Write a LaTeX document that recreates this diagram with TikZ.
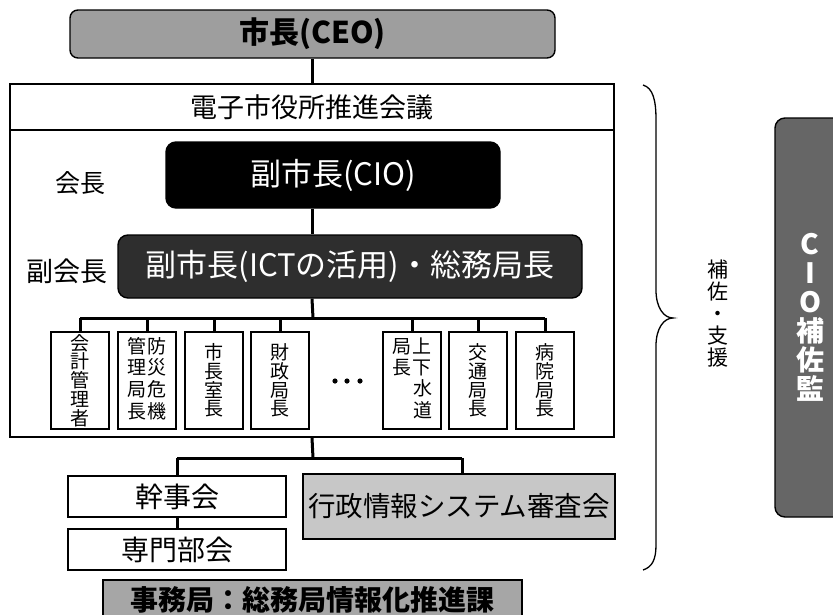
\documentclass[tikz,border=0pt]{standalone}
\usepackage{fontspec}
\setmainfont{Noto Sans CJK JP}
\newcommand{\fsz}[1]{\fontsize{#1}{#1}\selectfont}
\begin{document}
\begin{tikzpicture}[x=1pt,y=-1pt,
  conn/.style={line width=3pt},
  box/.style={draw, line width=1.4pt, inner sep=0pt},
  dept/.style={draw, line width=1.1pt, minimum width=58, minimum height=97, inner sep=0pt,
     font=\fontsize{19}{18.8}\selectfont, align=center},
  lbl/.style={inner sep=0pt}]
\useasboundingbox (0,0) rectangle (833,614);
\clip (0,0) rectangle (833,614);
% CEO
\node[box, rounded corners=8pt, fill=black!38, minimum width=485, minimum height=48,
  font=\fsz{30}\bfseries] (ceo) at (312.5,34) {市長(CEO)};
% council
\node[box, minimum width=604, minimum height=353] (council) at (312,260.5) {};
\node[box, minimum width=604, minimum height=46, font=\fsz{27}] (head) at (312,107) {電子市役所推進会議};
% chair
\node[lbl, font=\fsz{25}] (kaicho) at (80,183) {会長};
\node[box, rounded corners=10pt, fill=black, text=white, minimum width=334, minimum height=66,
  font=\fsz{31}] (cio) at (333,175) {副市長(CIO)};
% vice chair
\node[lbl, font=\fsz{27}] (fuku) at (67,271) {副会長};
\node[box, rounded corners=10pt, fill=black!82, text=white, minimum width=464, minimum height=63,
  font=\fsz{31}] (vice) at (350,266.5) {副市長(ICTの活用)・総務局長};
% departments
\node[dept] (d1) at (80,380.5) {会\\計\\管\\理\\者};
\node[dept] (d2) at (147,380.5) {\setlength{\tabcolsep}{0pt}\begin{tabular}{c@{\hspace{2pt}}c}管&防\\理&災\\局&危\\長&機\end{tabular}};
\node[dept] (d3) at (214,380.5) {市\\長\\室\\長};
\node[dept] (d4) at (280,380.5) {財\\政\\局\\長};
\node[dept] (d5) at (412,380.5) {\setlength{\tabcolsep}{0pt}\begin{tabular}{c@{\hspace{2pt}}c}局&上\\長&下\\&水\\&道\end{tabular}};
\node[dept] (d6) at (478,380.5) {交\\通\\局\\長};
\node[dept] (d7) at (545,380.5) {病\\院\\局\\長};
\fill (335,381) circle (2.6) (347,381) circle (2.6) (360,381) circle (2.6);
% lower bodies
\node[box, minimum width=218, minimum height=41, font=\fsz{28}] (kanji) at (177,496.5) {幹事会};
\node[box, minimum width=218, minimum height=41, font=\fsz{28}] (senmon) at (177,549.5) {専門部会};
\node[box, fill=black!22, minimum width=312, minimum height=65, font=\fsz{27.5}] (shinsa) at (459,506.5) {行政情報システム審査会};
\node[box, fill=black!35, minimum width=419, minimum height=40, font=\fsz{28}\bfseries] (jimu) at (312.5,600) {\raisebox{3pt}{事務局：総務局情報化推進課}};
% right side
\node[lbl, font=\fontsize{21}{22}\selectfont, align=center] (hosa) at (718,314) {補\\佐\\・\\支\\援};
\node[box, rounded corners=10pt, fill=black!60, text=white, minimum width=70, minimum height=399,
  font=\fontsize{28}{29}\selectfont\bfseries, align=center] (ciohosa) at (810,317.5) {C\\I\\O\\補\\佐\\監};
% connectors
\coordinate (bar) at (313,318);
\coordinate (bar2) at (313,458);
\coordinate (sdrop) at (462,458);
\draw[conn] (head.north |- ceo.south) -- (head.north);
\draw[conn] (head.north |- cio.south) -- (head.north |- vice.north);
\draw[conn] (head.north |- vice.south) -- (bar);
\draw[conn] (d1.north |- bar) -- (d7.north |- bar);
\foreach \d in {d1,d2,d3,d4,d5,d6,d7} \draw[conn] (\d.north |- bar) -- (\d.north);
\draw[conn] (council.south) -- (bar2);
\draw[conn] (kanji.north |- bar2) -- (sdrop);
\draw[conn] (kanji.north |- bar2) -- (kanji.north);
\draw[conn] (sdrop) -- (sdrop |- shinsa.north);
\draw[conn] (kanji.south) -- (senmon.north);
% brace
\draw[line width=1.3pt] (643,85) .. controls (653,88) and (656,100) .. (656,120) -- (656,290)
  .. controls (656,308) and (664,318) .. (673,318)
  .. controls (664,318) and (656,328) .. (656,346) -- (656,545)
  .. controls (656,560) and (652,567) .. (643,570);
\end{tikzpicture}
\end{document}
